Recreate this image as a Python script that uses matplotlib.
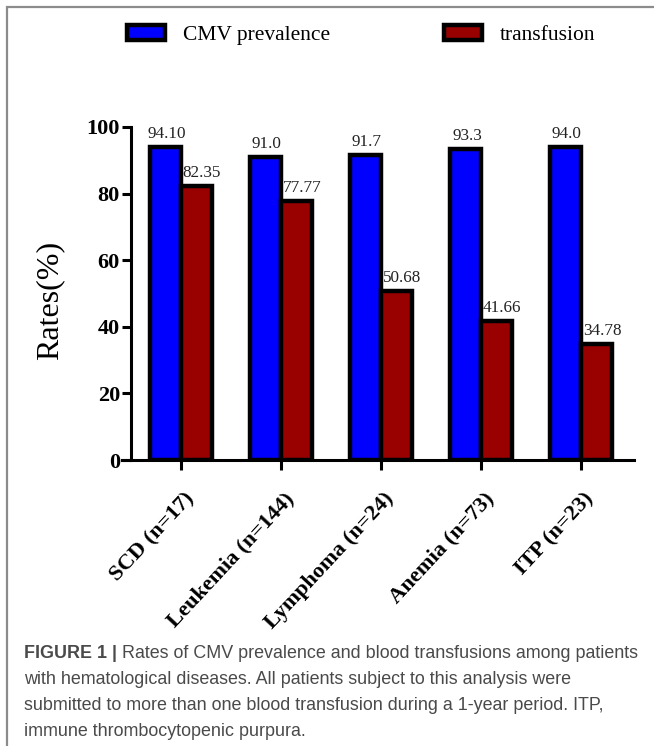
import matplotlib
matplotlib.use("Agg")
import matplotlib.pyplot as plt
import matplotlib.transforms as mtransforms
import numpy as np
from matplotlib.patches import Rectangle

# -------------------------------
# Data
# -------------------------------
categories = ["SCD (n=17)", "Leukemia (n=144)", "Lymphoma (n=24)", "Anemia (n=73)", "ITP (n=23)"]
cmv_prevalence = [94.10, 91.0, 91.7, 93.3, 94.0]
transfusion = [82.35, 77.77, 50.68, 41.66, 34.78]
cmv_labels = ["94.10", "91.0", "91.7", "93.3", "94.0"]
transfusion_labels = ["82.35", "77.77", "50.68", "41.66", "34.78"]
y_ticks = [0, 20, 40, 60, 80, 100]

caption_bold = "FIGURE 1 |"
caption_lines = [
    " Rates of CMV prevalence and blood transfusions among patients",
    "with hematological diseases. All patients subject to this analysis were",
    "submitted to more than one blood transfusion during a 1-year period. ITP,",
    "immune thrombocytopenic purpura.",
]

plt.rcParams['font.family'] = ['Liberation Serif', 'DejaVu Serif']

W, H = 654, 746
fig = plt.figure(figsize=(W / 100, H / 100), dpi=100)
ax = fig.add_axes([122 / W, 1 - 460 / H, 512 / W, 333 / H])

x = np.arange(len(categories))
bw = 0.31
lw = 3.2
b1 = ax.bar(x - bw, cmv_prevalence, bw, align='edge', color='#0000ff',
            edgecolor='black', linewidth=lw, label='CMV prevalence', zorder=3)
b2 = ax.bar(x, transfusion, bw, align='edge', color='#990000',
            edgecolor='black', linewidth=lw, label='transfusion', zorder=3)

# value labels over the bars
for xi, v, t in zip(x - bw / 2, cmv_prevalence, cmv_labels):
    ax.annotate(t, (xi, v), xytext=(1, 6.5), textcoords='offset points',
                ha='center', va='baseline', fontsize=12.3, color='#222222',
                annotation_clip=False)
for xi, v, t in zip(x + bw / 2, transfusion, transfusion_labels):
    ax.annotate(t, (xi, v), xytext=(4, 6.5), textcoords='offset points',
                ha='center', va='baseline', fontsize=12.3, color='#222222',
                annotation_clip=False)

ax.set_xlim(-0.59, 4.53)
ax.set_ylim(0, 100)
ax.spines['left'].set_position(('data', -0.5))
ax.spines['top'].set_visible(False)
ax.spines['right'].set_visible(False)
ax.spines['left'].set_linewidth(2.2)
ax.spines['bottom'].set_linewidth(2.2)

ax.set_yticks(y_ticks)
ax.set_yticklabels([str(t) for t in y_ticks], fontsize=16, fontweight='bold')
ax.tick_params(axis='y', length=6.5, width=2.2, pad=1.5)

ax.set_xticks(x)
ax.set_xticklabels(categories, rotation=47, ha='right', va='center',
                   rotation_mode='anchor', fontsize=16.2, fontweight='bold')
ax.tick_params(axis='x', length=7.5, width=2.2, pad=18)
shift = mtransforms.ScaledTranslation(10 / 100, 0, fig.dpi_scale_trans)
for lab in ax.get_xticklabels():
    lab.set_transform(lab.get_transform() + shift)

ax.set_ylabel("Rates(%)", fontsize=23)
ax.yaxis.set_label_coords(-0.112, 0.48)

# legend across the top
fig.legend(handles=[b1, b2], loc='center left', bbox_to_anchor=(127 / W, 1 - 35 / H),
           ncol=2, frameon=False, fontsize=15.5, borderpad=0, borderaxespad=0,
           handlelength=1.75, handleheight=0.7, handletextpad=0.85,
           columnspacing=5.3)

# figure frame (only left and top edges fall inside the image)
fig.add_artist(Rectangle((7 / W, -0.05), 1.2, 1.05 - 7 / H, transform=fig.transFigure,
                         fill=False, edgecolor='#8c8c8c', linewidth=1.6))

# caption
cap_font = ['Liberation Sans', 'DejaVu Sans']
cap_color = '#4a4a4a'
cap_size = 12.9
y0 = 1 - 654 / H
tb = fig.text(24 / W, y0, caption_bold, family=cap_font, fontsize=cap_size,
              fontweight='bold', color=cap_color, va='center')
fig.canvas.draw()
bb = tb.get_window_extent()
fig.text(bb.x1 / W, y0, caption_lines[0], family=cap_font, fontsize=cap_size,
         color=cap_color, va='center')
for i, line in enumerate(caption_lines[1:]):
    fig.text(24 / W, 1 - (680 + 26 * i) / H, line, family=cap_font,
             fontsize=cap_size, color=cap_color, va='center')

fig.savefig("out.png", dpi=100)
